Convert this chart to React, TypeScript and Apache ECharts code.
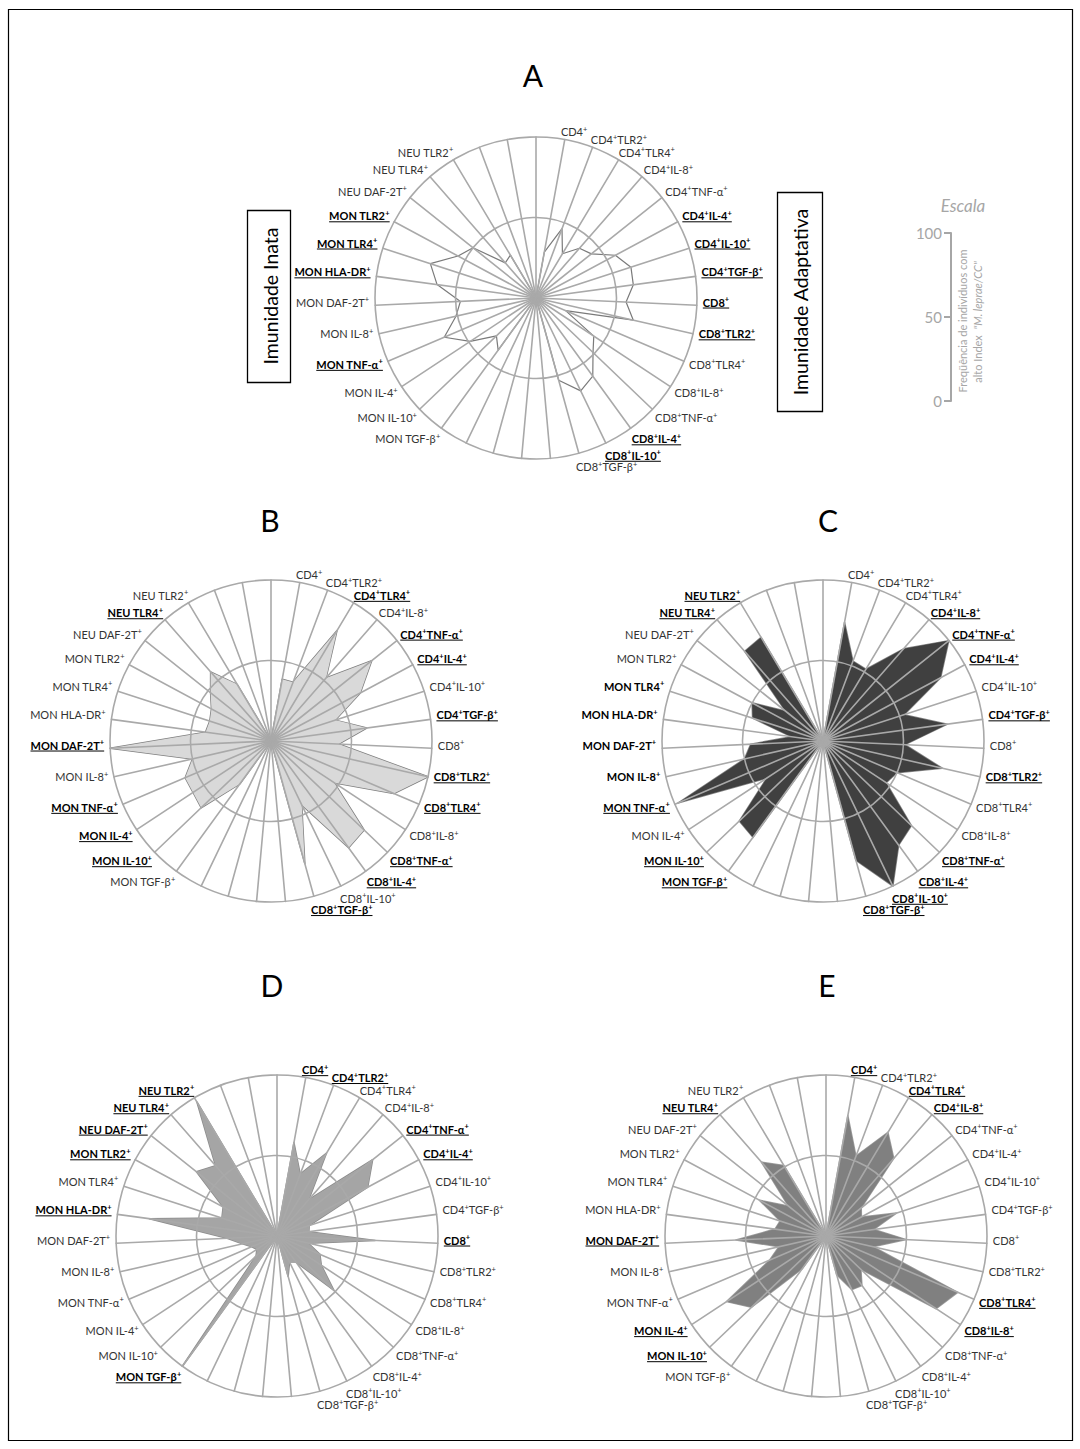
import React, { useEffect, useRef } from 'react';
import * as echarts from 'echarts';

// 35 spokes, clockwise from top (index 0 = top, unlabeled)
const LABELS: string[] = [
  '',
  'CD4⁺', 'CD4⁺TLR2⁺', 'CD4⁺TLR4⁺', 'CD4⁺IL-8⁺', 'CD4⁺TNF-α⁺', 'CD4⁺IL-4⁺', 'CD4⁺IL-10⁺', 'CD4⁺TGF-β⁺',
  'CD8⁺', 'CD8⁺TLR2⁺', 'CD8⁺TLR4⁺', 'CD8⁺IL-8⁺', 'CD8⁺TNF-α⁺', 'CD8⁺IL-4⁺', 'CD8⁺IL-10⁺', 'CD8⁺TGF-β⁺',
  '', '', '', '',
  'MON TGF-β⁺', 'MON IL-10⁺', 'MON IL-4⁺', 'MON TNF-α⁺', 'MON IL-8⁺', 'MON DAF-2T⁺', 'MON HLA-DR⁺', 'MON TLR4⁺', 'MON TLR2⁺',
  'NEU DAF-2T⁺', 'NEU TLR4⁺', 'NEU TLR2⁺',
  '', '',
];
const N = LABELS.length;

// Frequency (%) of individuals with high "M. leprae/CC" index, per spoke (clockwise order)
const VALUES_A = [0, 29, 46, 32, 41, 44, 56, 62, 61, 56, 62, 20, 43, 49, 60, 64, 53, 0, 0, 0, 0, 40, 34, 49, 62, 51, 47, 62, 69, 55, 50, 29, 31, 0, 0];
const VALUES_B = [0, 39, 39, 80, 52, 80, 63, 42, 60, 42, 100, 83, 47, 80, 82, 44, 79, 0, 0, 0, 0, 33, 60, 58, 58, 50, 100, 41, 40, 42, 48, 57, 41, 0, 0];
const VALUES_C = [0, 75, 53, 52, 76, 100, 83, 53, 78, 51, 76, 50, 47, 76, 80, 100, 77, 0, 0, 0, 0, 74, 72, 42, 98, 50, 45, 20, 46, 50, 30, 74, 75, 0, 0];
const VALUES_D = [0, 59, 41, 60, 30, 76, 64, 21, 20, 61, 20, 29, 33, 49, 20, 18, 26, 0, 0, 0, 0, 100, 18, 15, 17, 22, 31, 80, 36, 38, 64, 58, 97, 0, 0];
const VALUES_E = [0, 76, 53, 75, 64, 28, 25, 46, 30, 50, 30, 89, 82, 30, 38, 37, 25, 0, 0, 0, 0, 25, 64, 74, 38, 30, 56, 32, 30, 47, 30, 61, 51, 0, 0];

// highlighted (bold + underlined) spokes per panel
const HIGHLIGHT_A = [6, 7, 8, 9, 10, 14, 15, 24, 27, 28, 29];
const HIGHLIGHT_B = [3, 5, 6, 8, 10, 11, 13, 14, 16, 22, 23, 24, 26, 31];
const HIGHLIGHT_C = [4, 5, 6, 8, 10, 13, 14, 15, 16, 21, 22, 24, 31, 32];
const HIGHLIGHT_D = [1, 2, 5, 6, 9, 21, 27, 29, 30, 31, 32];
const HIGHLIGHT_E = [1, 3, 4, 11, 12, 22, 23, 26, 31];
// bold only (no underline)
const BOLD_C = [25, 26, 27, 28];

const SCALE_TICKS = [0, 50, 100];

const FONT = 'Lato, "Noto Sans", sans-serif';
const GRID_COLOR = '#a9a9a9';
const LABEL_SIZE = 11;
const SUP_SIZE = 7.5;

type Panel = {
  title: string; cx: number; cy: number; values: number[]; hl: number[]; bold: number[];
  line: string; lineW: number; fill: string | null;
};

const R = 161;
const PANELS: Panel[] = [
  { title: 'A', cx: 536, cy: 298, values: VALUES_A, hl: HIGHLIGHT_A, bold: [], line: '#7a7a7a', lineW: 1.2, fill: null },
  { title: 'B', cx: 271, cy: 741, values: VALUES_B, hl: HIGHLIGHT_B, bold: [], line: '#7f7f7f', lineW: 1.5, fill: '#d9d9d9' },
  { title: 'C', cx: 823, cy: 741, values: VALUES_C, hl: HIGHLIGHT_C, bold: BOLD_C, line: '#8a8a8a', lineW: 1.5, fill: '#404040' },
  { title: 'D', cx: 277, cy: 1236, values: VALUES_D, hl: HIGHLIGHT_D, bold: [], line: '#8c8c8c', lineW: 1.5, fill: '#a5a5a5' },
  { title: 'E', cx: 826, cy: 1236, values: VALUES_E, hl: HIGHLIGHT_E, bold: [], line: '#a0a0a0', lineW: 1.5, fill: '#808080' },
];
const TITLE_POS: Record<string, [number, number]> = {
  A: [533, 75], B: [270, 520], C: [828, 520], D: [272, 985], E: [827, 985],
};

let measureCtx: CanvasRenderingContext2D | null = null;
function measure(text: string, bold: boolean, size: number) {
  if (!measureCtx) measureCtx = document.createElement('canvas').getContext('2d');
  if (!measureCtx) return text.length * size * 0.5;
  measureCtx.font = `${bold ? 'bold ' : ''}${size}px ${FONT}`;
  return measureCtx.measureText(text).width;
}

// split a label into rich-text tokens, with "⁺" turned into a raised small "+"
function richLabel(name: string, bold: boolean) {
  const parts = name.split('⁺');
  let text = '';
  let width = 0;
  parts.forEach((seg, i) => {
    if (seg) {
      text += `{m|${seg}}`;
      width += measure(seg, bold, LABEL_SIZE);
    }
    if (i < parts.length - 1) {
      text += '{s|+}';
      width += measure('+', bold, SUP_SIZE);
    }
  });
  return { text, width };
}

// echarts radar runs counter-clockwise; reorder so spoke k is drawn clockwise
function ccw<T>(arr: T[]): T[] {
  return Array.from({ length: N }, (_, i) => arr[(N - i) % N]);
}

function labelElements(p: Panel) {
  const els: any[] = [];
  for (let k = 0; k < N; k++) {
    const name = LABELS[k];
    if (!name) continue;
    const th = (k * 2 * Math.PI) / N;
    const ux = Math.sin(th);
    const uy = -Math.cos(th);
    const px = p.cx + R * ux;
    const py = p.cy + R * uy;
    const u = p.hl.includes(k);
    const b = u || p.bold.includes(k);
    const { text, width: w } = richLabel(name, b);
    const y = py - 4 + uy * (uy < 0 ? 4 : 18);
    const left = ux >= 0 ? px + 12 * ux - 6 : px + 12 * ux + 6 - w;
    const fill = b ? '#000' : '#333';
    const weight = b ? 'bold' : 'normal';
    els.push({
      type: 'text', x: left, y, z: 10,
      style: {
        text, fontSize: LABEL_SIZE, fontFamily: FONT, fontWeight: weight,
        fill, align: 'left', verticalAlign: 'middle',
        rich: {
          m: { fontSize: LABEL_SIZE, fontFamily: FONT, fontWeight: weight, fill, lineHeight: 13 },
          s: { fontSize: SUP_SIZE, fontFamily: FONT, fontWeight: weight, fill, lineHeight: 8, verticalAlign: 'top' },
        },
      },
    });
    if (u) {
      els.push({
        type: 'line', z: 10,
        shape: { x1: left, y1: y + 6, x2: left + w, y2: y + 6 },
        style: { stroke: '#000', lineWidth: 1 },
      });
    }
  }
  return els;
}

function buildOption() {
  const radar = PANELS.map((p) => ({
    center: [p.cx, p.cy], radius: R, shape: 'circle', startAngle: 90, splitNumber: 2, z: 3,
    indicator: ccw(LABELS).map((n, i) => ({ name: n || ' '.repeat(i + 1), min: 0, max: 100 })),
    axisName: { show: false },
    axisLine: { lineStyle: { color: GRID_COLOR, width: 1.6 } },
    splitLine: { lineStyle: { color: GRID_COLOR, width: 1.6 } },
    splitArea: { show: false },
  }));

  const series: any[] = PANELS.map((p, idx) => ({
    type: 'radar', radarIndex: idx, z: 1, symbol: 'none', silent: true,
    lineStyle: { color: p.line, width: p.lineW },
    areaStyle: p.fill ? { color: p.fill, opacity: 1 } : undefined,
    data: [{ value: ccw(p.values), name: p.title }],
  }));
  series.push({ type: 'line', xAxisIndex: 0, yAxisIndex: 0, data: [], silent: true });

  const elements: any[] = [];
  // outer frame
  elements.push({ type: 'rect', shape: { x: 8.5, y: 9.5, width: 1064, height: 1431 }, style: { fill: 'none', stroke: '#000', lineWidth: 1.2 } });
  // panel titles
  PANELS.forEach((p) => {
    const [tx, ty] = TITLE_POS[p.title];
    elements.push({ type: 'text', x: tx, y: ty, style: { text: p.title, fontSize: 30, fontFamily: FONT, fill: '#000', align: 'center', verticalAlign: 'middle' } });
    elements.push(...labelElements(p));
  });
  // boxed side captions
  elements.push({ type: 'rect', shape: { x: 247.5, y: 210.5, width: 43, height: 172 }, style: { fill: 'none', stroke: '#000', lineWidth: 1.3 } });
  elements.push({ type: 'text', x: 270, y: 296, rotation: Math.PI / 2, style: { text: 'Imunidade Inata', fontSize: 19.5, fontFamily: FONT, fill: '#000', align: 'center', verticalAlign: 'middle' } });
  elements.push({ type: 'rect', shape: { x: 777.5, y: 192.5, width: 45, height: 219 }, style: { fill: 'none', stroke: '#000', lineWidth: 1.3 } });
  elements.push({ type: 'text', x: 800, y: 302, rotation: Math.PI / 2, style: { text: 'Imunidade Adaptativa', fontSize: 19.5, fontFamily: FONT, fill: '#000', align: 'center', verticalAlign: 'middle' } });
  // scale legend texts
  elements.push({ type: 'text', x: 963, y: 205, style: { text: 'Escala', fontSize: 17, fontStyle: 'italic', fontFamily: FONT, fill: '#a6a6a6', align: 'center', verticalAlign: 'middle' } });
  elements.push({ type: 'text', x: 962, y: 321, rotation: Math.PI / 2, style: { text: 'Freqüência de indivíduos com', fontSize: 11, fontFamily: FONT, fill: '#a6a6a6', align: 'center', verticalAlign: 'middle' } });
  elements.push({
    type: 'text', x: 977, y: 322, rotation: Math.PI / 2,
    style: {
      text: '{a|alto Index  }{b|"M. leprae/CC"}', fontSize: 11, fontFamily: FONT, fill: '#a6a6a6', align: 'center', verticalAlign: 'middle',
      rich: { a: { fontSize: 11, fontFamily: FONT, fill: '#a6a6a6' }, b: { fontSize: 11, fontFamily: FONT, fontStyle: 'italic', fill: '#a6a6a6' } },
    },
  });

  return {
    animation: false,
    backgroundColor: '#ffffff',
    textStyle: { fontFamily: FONT },
    radar,
    grid: [{ left: 951, top: 233, width: 10, height: 168 }],
    xAxis: [{ type: 'value', show: false, min: 0, max: 1 }],
    yAxis: [{
      type: 'value', min: 0, max: 100, interval: 50, position: 'left',
      axisLine: { show: true, lineStyle: { color: '#a6a6a6', width: 2 } },
      axisTick: { show: true, length: 7, lineStyle: { color: '#a6a6a6', width: 2 } },
      axisLabel: { color: '#a6a6a6', fontSize: 15, fontFamily: FONT, margin: 9, customValues: SCALE_TICKS },
      splitLine: { show: false },
    }],
    series,
    graphic: { elements },
  };
}

export default function App() {
  const ref = useRef<HTMLDivElement>(null);
  useEffect(() => {
    if (!ref.current) return;
    const chart = echarts.init(ref.current, null, { renderer: 'svg' });
    chart.setOption(buildOption() as any);
    return () => chart.dispose();
  }, []);
  return (
    <div
      ref={ref}
      style={{ position: 'absolute', left: 0, top: 0, width: 1080, height: 1449, background: '#fff' }}
    />
  );
}
